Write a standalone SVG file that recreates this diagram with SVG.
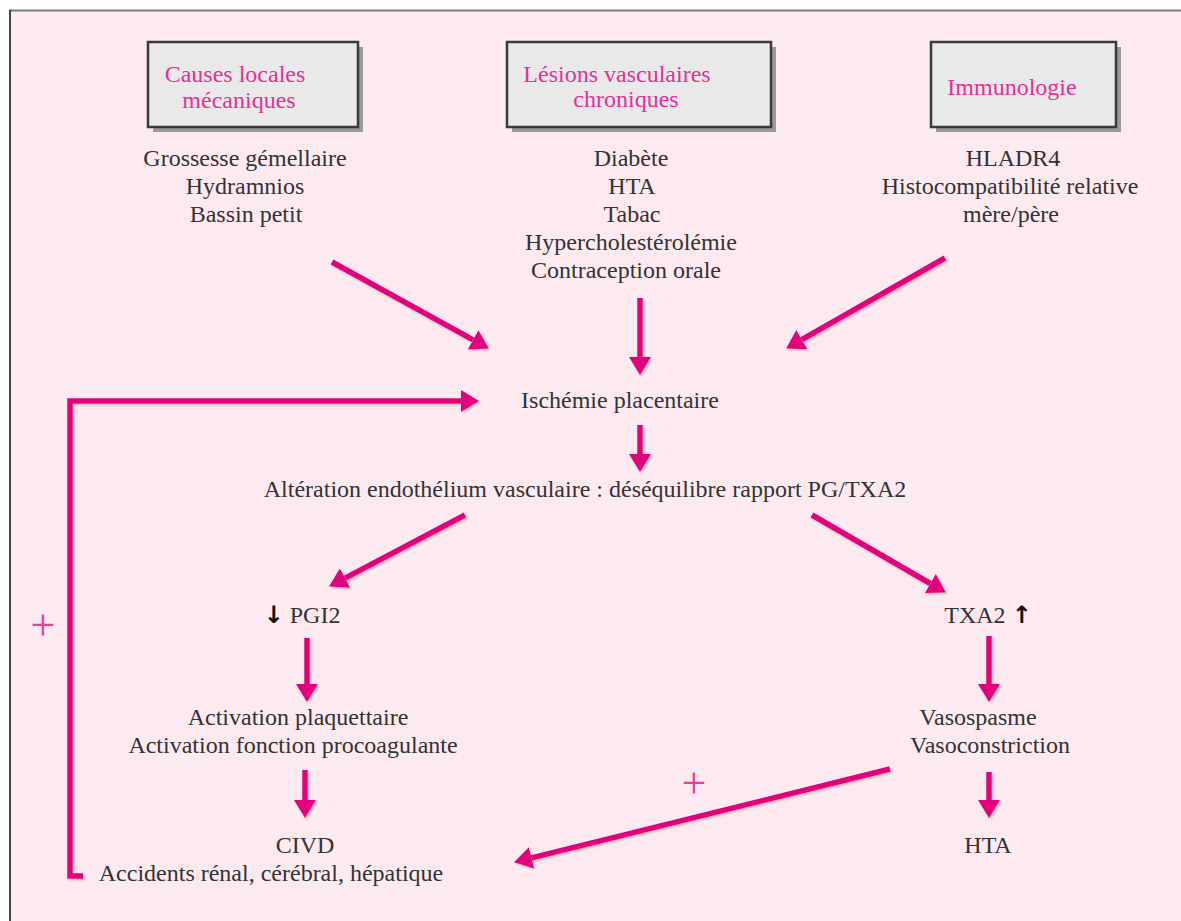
<svg xmlns="http://www.w3.org/2000/svg" width="1181" height="921" viewBox="0 0 1181 921">
<style>
.t{font-family:"Liberation Serif","Times New Roman",serif;font-size:24px;fill:#333;text-anchor:middle}
.bt{font-family:"Liberation Serif","Times New Roman",serif;font-size:24px;fill:#e5309a;text-anchor:middle}
.ar{font-family:"DejaVu Sans",sans-serif;font-weight:bold;fill:#111}
.box{fill:#e9e9e9;stroke:#3a3a3a;stroke-width:2.5}
.sh{fill:#9a9a9a}
.c{stroke:#e2007c;stroke-width:5.5;fill:none}
.plus{font-family:"Liberation Serif","Times New Roman",serif;font-size:44px;fill:#e83f9c;text-anchor:middle}
</style>
<defs>
<filter id="ds" filterUnits="userSpaceOnUse" x="0" y="0" width="1181" height="921">
<feDropShadow dx="1.5" dy="1.5" stdDeviation="0.8" flood-color="#777" flood-opacity="0.45"/>
</filter>
<marker id="ah" markerUnits="userSpaceOnUse" markerWidth="20" markerHeight="22" refX="0" refY="11" orient="auto" viewBox="0 0 20 22">
<path d="M0,0 L18,11 L0,22 z" fill="#e2007c"/>
</marker>
</defs>
<rect x="0" y="0" width="1181" height="921" fill="#ffffff"/>
<rect x="10" y="11" width="1171" height="910" fill="#fdeaf1"/>
<line x1="9" y1="10.5" x2="1181" y2="10.5" stroke="#7a7a7a" stroke-width="2"/>
<line x1="10" y1="10" x2="10" y2="921" stroke="#444" stroke-width="2"/>

<g id="box-causes">
<rect class="sh" x="153" y="47" width="210" height="85"/>
<rect class="box" x="148" y="42" width="210" height="85"/>
<text class="bt" x="235" y="82">Causes locales</text>
<text class="bt" x="239" y="108">mécaniques</text>
</g>
<g id="box-lesions">
<rect class="sh" x="512" y="47" width="264" height="85"/>
<rect class="box" x="507" y="42" width="264" height="85"/>
<text class="bt" x="617" y="82">Lésions vasculaires</text>
<text class="bt" x="626" y="107">chroniques</text>
</g>
<g id="box-immuno">
<rect class="sh" x="936" y="47" width="185" height="85"/>
<rect class="box" x="931" y="42" width="185" height="85"/>
<text class="bt" x="1012" y="95">Immunologie</text>
</g>

<g id="causes-list">
<text class="t" x="245" y="166">Grossesse gémellaire</text>
<text class="t" x="245" y="194">Hydramnios</text>
<text class="t" x="246" y="222">Bassin petit</text>
</g>
<g id="lesions-list">
<text class="t" x="631" y="166">Diabète</text>
<text class="t" x="632" y="194">HTA</text>
<text class="t" x="632" y="222">Tabac</text>
<text class="t" x="631" y="250">Hypercholestérolémie</text>
<text class="t" x="626" y="278">Contraception orale</text>
</g>
<g id="immuno-list">
<text class="t" x="1013" y="166">HLADR4</text>
<text class="t" x="1010" y="194">Histocompatibilité relative</text>
<text class="t" x="1011" y="222">mère/père</text>
</g>
<g id="ischemie"><text class="t" x="620" y="408">Ischémie placentaire</text></g>
<g id="alteration"><text class="t" x="585" y="497">Altération endothélium vasculaire : déséquilibre rapport PG/TXA2</text></g>
<g id="pgi2"><text class="t" x="302" y="623"><tspan class="ar">↓</tspan> PGI2</text></g>
<g id="txa2"><text class="t" x="988" y="623">TXA2 <tspan class="ar">↑</tspan></text></g>
<g id="activation">
<text class="t" x="298" y="725">Activation plaquettaire</text>
<text class="t" x="293" y="753">Activation fonction procoagulante</text>
</g>
<g id="vaso">
<text class="t" x="978" y="725">Vasospasme</text>
<text class="t" x="990" y="753">Vasoconstriction</text>
</g>
<g id="civd">
<text class="t" x="305" y="853">CIVD</text>
<text class="t" x="271" y="881">Accidents rénal, cérébral, hépatique</text>
</g>
<g id="hta"><text class="t" x="988" y="853">HTA</text></g>

<g id="connectors">
<g filter="url(#ds)">
<line class="c" x1="332" y1="262" x2="473.1" y2="339.8" marker-end="url(#ah)"/>
<line class="c" x1="945" y1="258" x2="801.8" y2="339.6" marker-end="url(#ah)"/>
<line class="c" x1="640" y1="298" x2="640" y2="357" marker-end="url(#ah)"/>
<polyline class="c" points="83,876 70,876 70,401 461,401" marker-end="url(#ah)"/>
<line class="c" x1="640" y1="425" x2="640" y2="454" marker-end="url(#ah)"/>
<line class="c" x1="465" y1="515" x2="345" y2="578.1" marker-end="url(#ah)"/>
<line class="c" x1="812" y1="515" x2="930.3" y2="583.5" marker-end="url(#ah)"/>
<line class="c" x1="307" y1="638" x2="307" y2="684" marker-end="url(#ah)"/>
<line class="c" x1="989" y1="636" x2="989" y2="684" marker-end="url(#ah)"/>
<line class="c" x1="305" y1="770" x2="305" y2="800" marker-end="url(#ah)"/>
<line class="c" x1="989" y1="772" x2="989" y2="800" marker-end="url(#ah)"/>
<line class="c" x1="890" y1="769" x2="531.5" y2="857.9" marker-end="url(#ah)"/>
</g>
<text class="plus" x="43" y="640">+</text>
<text class="plus" x="694" y="798">+</text>
</g>
</svg>
